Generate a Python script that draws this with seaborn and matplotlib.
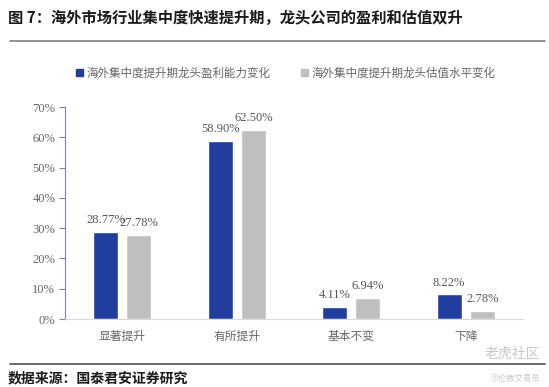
import matplotlib
matplotlib.use("Agg")
import matplotlib.pyplot as plt
import seaborn as sns
import pandas as pd

categories = ["显著提升", "有所提升", "基本不变", "下降"]
profit_change = [28.77, 58.90, 4.11, 8.22]
valuation_change = [27.78, 62.50, 6.94, 2.78]
series_names = ["海外集中度提升期龙头盈利能力变化", "海外集中度提升期龙头估值水平变化"]
y_ticks = [0, 10, 20, 30, 40, 50, 60, 70]

sns.set_theme(style="white")
plt.rcParams['font.family'] = ['Noto Sans CJK SC', 'DejaVu Sans']

df = pd.DataFrame({
    "cat": categories * 2,
    "val": profit_change + valuation_change,
    "series": [series_names[0]] * 4 + [series_names[1]] * 4,
})

fig = plt.figure(figsize=(5.49, 3.87), dpi=100)
ax = fig.add_axes([65/549, 1-319/387, 458/549, 212/387])
colors = ["#1F3E9E", "#BFBFBF"]
sns.barplot(data=df, x="cat", y="val", hue="series", palette=colors,
            width=0.58, gap=0.25, ax=ax, legend=False, saturation=1)

ax.set_xlim(-0.5, 3.5)
ax.set_ylim(0, 70)
ax.set_yticks(y_ticks)
ax.set_yticklabels([f"{t}%" for t in y_ticks], family=['Liberation Serif'], fontsize=9, color="#666666")
ax.set_xticks(range(len(categories)))
ax.set_xticklabels(categories, fontsize=8.5, color="#666666")
ax.set_xlabel("")
ax.set_ylabel("")
for s in ["top", "right"]:
    ax.spines[s].set_visible(False)
ax.spines["left"].set_color("#8080B0")
ax.spines["left"].set_linewidth(0.8)
ax.spines["bottom"].set_color("#D9D9D9")
ax.spines["bottom"].set_linewidth(0.8)
ax.tick_params(axis="y", which="major", left=True, length=4, width=0.8, color="#8080B0", pad=3)
ax.tick_params(axis="x", length=0, pad=8)

for cont in ax.containers:
    labels = [f"{b.get_height():.2f}%" for b in cont]
    ax.bar_label(cont, labels=labels, padding=4, fontsize=9, color="#555555",
                 family=['Liberation Serif'])

# legend
from matplotlib.patches import Patch
handles = [Patch(color=c) for c in colors]
fig.legend(handles, series_names, loc="center left", bbox_to_anchor=(66/549, 1-73/387),
           ncol=2, frameon=False, fontsize=8.3, handlelength=0.6, handleheight=0.6,
           handletextpad=0.3, columnspacing=2.6, labelcolor="#666666")

fig.text(8/549, 1-18/387, "图 7：海外市场行业集中度快速提升期，龙头公司的盈利和估值双升",
         fontsize=11, fontweight="bold", color="#1a1a1a", va="center", ha="left")
fig.add_artist(plt.Line2D([10/549, 545/549], [1-41/387, 1-41/387], color="#808080", lw=1.2))
fig.add_artist(plt.Line2D([10/549, 545/549], [1-364/387, 1-364/387], color="#505050", lw=1.2))
fig.text(8/549, 1-378/387, "数据来源：国泰君安证券研究",
         fontsize=10, fontweight="bold", color="#1a1a1a", va="center", ha="left")
fig.text(540/549, 1-354/387, "老虎社区", fontsize=10, color="#C8C8C8", va="center", ha="right")
fig.text(540/549, 1-378/387, "@伦敦交易员", fontsize=6, color="#C8C8C8", va="center", ha="right")

fig.savefig("out.png", dpi=100)
